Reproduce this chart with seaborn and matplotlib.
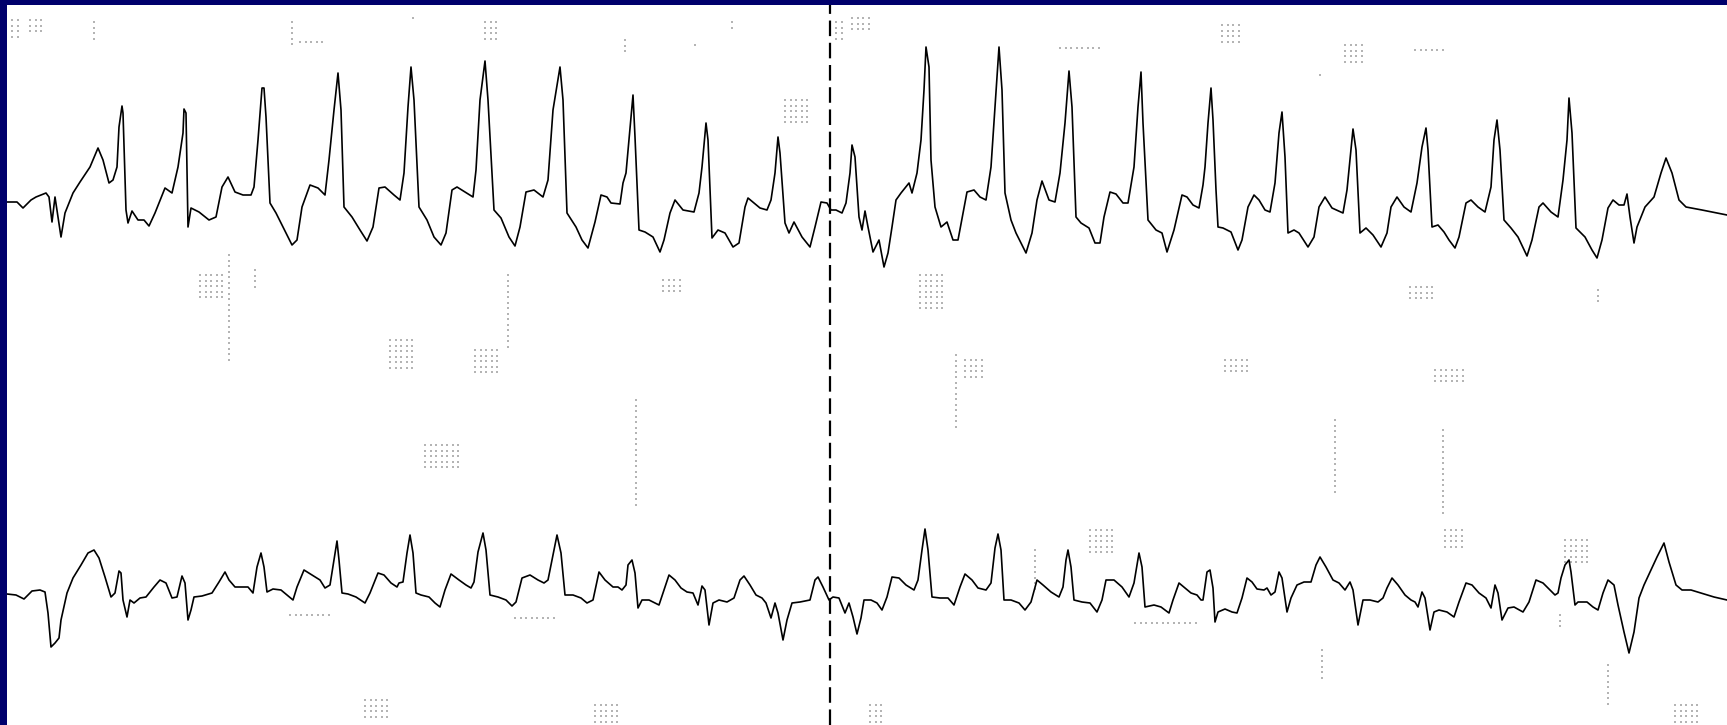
import numpy as np
import pandas as pd
import matplotlib
matplotlib.use("Agg")
import matplotlib.pyplot as plt
import seaborn as sns

# ---- Data: sample position (time axis) and deflection (screen units, downward positive) ----
upper_t = [7, 17, 23, 31, 36, 46, 49, 52, 55, 61, 65, 73, 80, 90, 98, 103, 109, 113, 117, 119, 122, 123,
           126, 128, 132, 138, 144, 149, 155, 165, 172, 178, 183, 184, 186, 188, 191, 199, 209, 216, 222,
           228, 235, 243, 251, 254, 258, 262, 264, 266, 270, 276, 283, 292, 297, 302, 310, 318, 325, 329,
           334, 338, 341, 344, 352, 360, 367, 373, 379, 385, 394, 400, 404, 408, 411, 414, 419, 427, 434,
           441, 446, 452, 457, 465, 473, 476, 480, 485, 488, 494, 501, 509, 515, 520, 526, 534, 543, 548,
           553, 560, 563, 567, 576, 582, 588,
           595, 601, 607, 611, 620, 623, 626, 629, 633, 635, 639, 645, 653, 660, 664, 670, 675, 683, 694,
           699, 702, 706, 708, 712, 718, 725, 733, 739, 745, 748, 754, 760, 767, 771, 775, 778, 780, 785,
           789, 794, 802, 810, 815, 821, 827, 831, 836, 842, 846, 850, 852, 855, 859, 862, 865, 868, 873,
           879, 884, 888, 892, 896, 901, 909, 912, 917, 921, 924, 926, 929, 931, 935, 941, 947, 953, 958,
           963, 967, 974, 980, 986, 991, 995, 999, 1002, 1005, 1011, 1016, 1026, 1032, 1037, 1042, 1049,
           1055, 1060, 1065, 1069, 1072, 1076, 1081, 1089, 1095, 1100, 1104, 1110, 1116, 1123, 1128, 1134,
           1138, 1141, 1143, 1148, 1156, 1162, 1167,
           1174, 1182, 1187, 1193, 1199, 1203, 1205, 1208, 1211, 1213, 1216, 1218, 1223, 1231, 1238, 1242,
           1248, 1254, 1259, 1265, 1270, 1275, 1279, 1282, 1285, 1288, 1294, 1299, 1308, 1314, 1319, 1325,
           1332, 1343, 1347, 1351, 1353, 1356, 1360, 1366, 1373, 1381, 1387, 1391, 1397, 1404, 1411, 1417,
           1422, 1426, 1428, 1432, 1438, 1444, 1449, 1455, 1459, 1466, 1471, 1478, 1485, 1491, 1494, 1497,
           1500, 1504, 1511, 1518, 1527, 1532, 1539, 1543, 1551, 1558, 1563, 1567, 1569, 1572, 1576, 1585,
           1592, 1597, 1602, 1608, 1613, 1619, 1624, 1627, 1630, 1634, 1637, 1645, 1654, 1661, 1666, 1672,
           1679, 1686, 1702, 1717, 1727]
upper_v = [202, 202, 208, 200, 197, 193, 197, 222, 197, 237, 213, 193, 182, 167, 148, 160, 183, 180, 167, 127, 106, 113,
           210, 223, 211, 220, 220, 226, 213, 188, 193, 167, 133, 109, 113, 227, 208, 212, 220, 217, 187,
           177, 192, 195, 195, 187, 140, 88, 88, 117, 203, 213, 227, 245, 240, 207, 185, 188, 195, 160,
           110, 73, 110, 207, 217, 230, 241, 227, 188, 187, 195, 200, 173, 107, 67, 100, 207, 220, 237,
           245, 233, 190, 187, 192, 197, 170, 100, 61, 100, 210, 218, 237, 246, 227, 192, 190, 197, 180,
           110, 67, 100, 213, 227, 240, 248,
           222, 195, 197, 203, 204, 183, 173, 140, 95, 137, 230, 232, 237, 252, 240, 213, 200, 210, 212,
           193, 167, 123, 140, 238, 230, 233, 247, 243, 207, 198, 203, 208, 210, 200, 173, 137, 153, 223,
           233, 222, 237, 247, 227, 202, 203, 210, 210, 213, 203, 173, 145, 157, 217, 230, 211, 227, 252,
           240, 267, 253, 227, 200, 193, 183, 193, 173, 140, 90, 47, 67, 160, 207, 227, 222, 240, 240,
           213, 192, 190, 197, 200, 167, 107, 47, 90, 193, 220, 233, 253, 233, 200, 181, 200,
           202, 173, 123, 71, 107, 217, 223, 228, 243, 243, 217, 192, 194, 203, 203, 167,
           107, 72, 123, 220, 230, 233, 252,
           230, 195, 197, 205, 208, 185, 167, 123, 88, 120, 190, 227, 228, 232, 250, 240,
           207, 195, 200, 210, 212, 183, 133, 112, 157, 233, 230, 233, 247, 237, 207, 197,
           208, 213, 190, 150, 129, 150, 233, 228, 235, 247, 233, 207, 197, 207, 212, 183,
           147, 128, 150, 227, 225, 232, 240, 248, 237, 203, 200, 207, 212, 187, 140, 120,
           150, 220, 228, 237, 256, 240, 207, 203, 212, 217, 180, 140, 98, 133, 228, 237,
           250, 258, 240, 208, 200, 205, 205, 194, 217, 243, 227, 207, 197, 173, 158, 173,
           200, 207, 210, 213, 215]

lower_t = [7, 16, 24, 32, 40, 45, 48, 51, 55, 59, 61, 67, 73, 81, 88, 94, 99, 105, 111, 115, 119, 121, 123,
           127, 130, 134, 140, 146, 154, 160, 166, 172, 177, 182, 185, 188, 191, 194, 202, 212, 219, 225,
           229, 235, 242, 248, 253, 257, 261, 264, 267, 273, 281, 287, 293, 297, 304, 312, 320, 325, 330,
           334, 337, 339, 342, 348, 356, 365, 370, 378, 384, 391, 397, 399, 403, 407, 410, 413, 416, 421,
           429, 435, 440, 445, 451, 459, 466, 471, 474, 478, 483, 486, 490, 498, 506, 512, 516, 522, 530,
           538, 544, 548, 552, 557, 561, 565, 573, 581, 587, 593, 599, 605, 613,
           618, 622, 626, 628, 632, 635, 638, 642, 649, 659, 664, 669, 675, 681, 687, 693, 698, 702, 705,
           709, 713, 719, 727, 734, 740, 744, 750, 756, 762, 766, 771, 775, 778, 783, 787, 792, 800, 810,
           815, 818, 823, 829, 833, 839, 845, 849, 853, 857, 861, 864, 871, 877, 882, 887, 892, 899, 906,
           914, 918, 922, 925, 928, 932, 940, 948, 954, 960, 965, 972, 978, 986, 991, 995, 998, 1001, 1004,
           1011, 1019, 1025, 1031, 1037, 1043, 1051, 1059, 1063, 1066, 1068, 1071, 1074, 1082, 1090, 1097,
           1102, 1106, 1114, 1122, 1129, 1134, 1139, 1142, 1145, 1154, 1161, 1169, 1173, 1179, 1185, 1191,
           1197, 1201,
           1203, 1207, 1210, 1213, 1215, 1218, 1225, 1232, 1237, 1242, 1247, 1252, 1257, 1264, 1267, 1271,
           1275, 1279, 1282, 1287, 1291, 1297, 1304, 1311, 1316, 1320, 1326, 1333, 1339, 1345, 1350, 1353,
           1358, 1363, 1370, 1378, 1383, 1387, 1392, 1398, 1405, 1411, 1415, 1418, 1422, 1425, 1430, 1434,
           1439, 1447, 1454, 1459, 1466, 1472, 1479, 1486, 1491, 1495, 1498, 1502, 1508, 1514, 1523, 1529,
           1536, 1543, 1550, 1555, 1558, 1561, 1565, 1569, 1571, 1575, 1578, 1587, 1593, 1598, 1603, 1608,
           1614, 1618, 1624, 1629, 1634, 1639, 1644, 1650, 1657, 1664, 1669, 1676, 1682, 1691, 1701, 1714,
           1727]
lower_v = [594, 595, 599, 591, 590, 592, 613, 647, 643, 638, 620, 593, 578, 565, 553, 550, 558, 577, 597, 593, 571, 573, 600,
           617, 600, 603, 598, 597, 587, 580, 583, 598, 597, 576, 583, 620, 610, 597, 596, 593, 582, 572,
           580, 587, 587, 587, 593, 567, 553, 567, 592, 589, 590, 595, 600, 587, 570, 575, 580, 588, 585,
           560, 541, 560, 593, 594, 597, 603, 593, 573, 575, 583, 587, 583, 582, 553, 535, 553, 593, 595,
           597, 603, 607, 590, 574, 580, 585, 588, 582, 552, 533, 550, 595, 597, 600, 606, 602, 578, 575,
           580, 583, 580, 560, 535, 553, 595, 595, 598, 603, 600, 572, 580, 587,
           587, 590, 585, 565, 560, 573, 608, 600, 600, 605, 590, 575, 580, 588, 592, 593, 605, 586, 590,
           625, 603, 600, 602, 598, 580, 576, 585, 595, 598, 603, 618, 603, 613, 640, 620, 603, 602, 600,
           580, 577, 587, 600, 597, 598, 613, 603, 617, 634, 618, 600, 600, 603, 610, 597, 577, 578, 585,
           590, 580, 550, 529, 550, 597, 598, 598, 605, 587, 574, 580, 588, 590, 583, 548, 534, 550, 600,
           600, 603, 610, 602, 580, 585, 592, 597, 587, 560, 550, 567, 600, 602, 603, 612,
           600, 580, 580, 587, 597, 583, 553, 567, 607, 605, 607, 613, 600, 583, 588, 593,
           595, 600,
           600, 572, 570, 588, 622, 612, 609, 612, 613, 598, 578, 582, 589, 590, 588, 595,
           592, 572, 578, 612, 598, 585, 582, 582, 565, 557, 567, 580, 583, 590, 582, 590,
           625, 600, 600, 602, 598, 588, 578, 585, 595, 600, 602, 607, 592, 598, 630, 612,
           610, 612, 617, 602, 583, 585, 593, 598, 608, 585, 593, 620, 608, 607, 612, 602,
           580, 583, 590, 595, 593, 578, 565, 560, 572, 605, 602, 602, 607, 610, 593, 580,
           585, 605, 632, 653, 632, 598, 585, 572, 557, 543, 562, 585, 590, 590, 593, 597,
           600]

marker_t = [830]

# Faded grid-paper dot patches: (left, top, columns, rows)
grid_patches = [
    (12, 20, 2, 4), (30, 20, 3, 3), (94, 22, 1, 4), (292, 22, 1, 5), (300, 42, 5, 1),
    (413, 18, 1, 1), (485, 22, 3, 4), (625, 40, 1, 3), (695, 45, 1, 1), (732, 22, 1, 2),
    (836, 22, 2, 4), (852, 18, 4, 3), (1060, 48, 8, 1), (1222, 25, 4, 4), (1320, 75, 1, 1),
    (1345, 45, 4, 4), (1415, 50, 6, 1), (785, 100, 5, 5), (200, 275, 5, 5), (255, 270, 1, 4),
    (390, 340, 5, 6), (475, 350, 5, 5), (663, 280, 4, 3), (920, 275, 5, 7), (965, 360, 4, 4),
    (1225, 360, 5, 3), (1410, 287, 5, 3), (1435, 370, 6, 3), (1598, 290, 1, 3), (425, 445, 7, 5),
    (1090, 530, 5, 5), (1445, 530, 4, 4), (1565, 540, 5, 5), (290, 615, 8, 1), (515, 618, 8, 1),
    (1135, 623, 12, 1), (365, 700, 5, 4), (595, 705, 5, 4), (870, 705, 3, 4), (1675, 705, 5, 4),
    (1560, 615, 1, 3), (229, 255, 1, 20), (508, 275, 1, 14), (636, 400, 1, 20), (956, 355, 1, 14),
    (1035, 550, 1, 8), (1335, 420, 1, 14), (1443, 430, 1, 16), (1322, 650, 1, 6), (1608, 665, 1, 8),
]

df = pd.concat([
    pd.DataFrame({"t": upper_t, "v": upper_v, "lead": "upper"}),
    pd.DataFrame({"t": lower_t, "v": lower_v, "lead": "lower"}),
], ignore_index=True)

step = 5.5
dots = pd.DataFrame(
    [(x0 + i * step, y0 + j * step)
     for (x0, y0, nc, nr) in grid_patches for i in range(nc) for j in range(nr)],
    columns=["t", "v"])

W, H = 1727, 725
fig = plt.figure(figsize=(W / 100, H / 100), dpi=100)
fig.patch.set_facecolor("#00006c")
ax = fig.add_axes([7 / W, 0, (W - 7) / W, (H - 5) / H])
ax.set_facecolor("white")

sns.scatterplot(data=dots, x="t", y="v", marker="s", s=1.3, color="#b4b4b4",
                linewidth=0, ax=ax, legend=False)

sns.lineplot(data=df, x="t", y="v", units="lead", estimator=None, sort=False,
             color="black", linewidth=1.2, ax=ax, legend=False)

for m in marker_t:
    ax.axvline(m, color="black", linewidth=1.6, linestyle=(0, (7, 3)))

ax.set_xlim(7, W)
ax.set_ylim(H, 5)
ax.set_xticks([])
ax.set_yticks([])
ax.set_xlabel("")
ax.set_ylabel("")
for sp in ax.spines.values():
    sp.set_visible(False)

fig.savefig("out.png", dpi=100, facecolor=fig.get_facecolor())
